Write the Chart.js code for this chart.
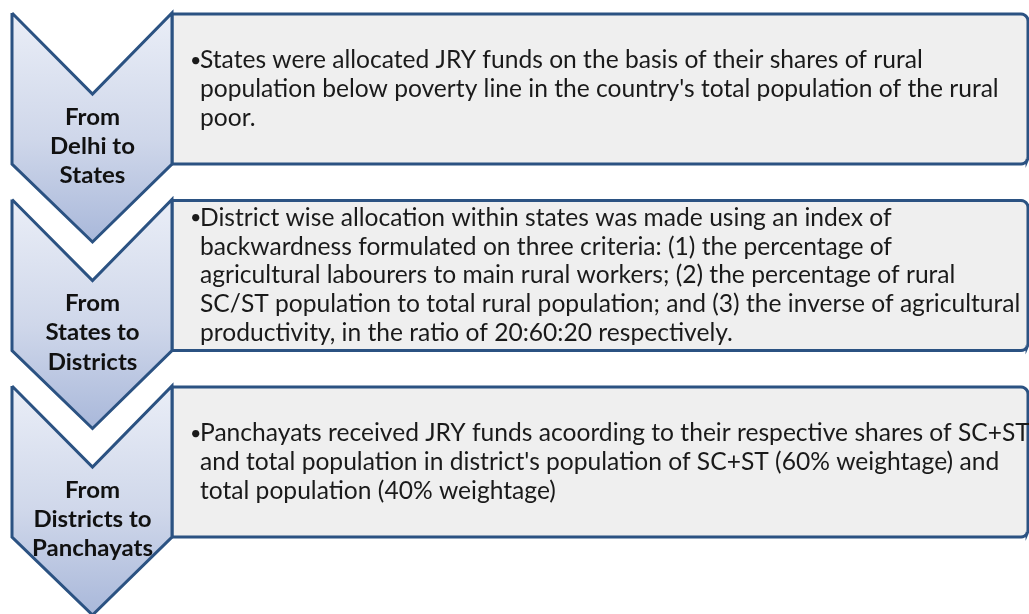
<!DOCTYPE html>
<html>
<head>
<meta charset="utf-8">
<script src="https://cdn.jsdelivr.net/npm/chart.js@4"></script>
<style>
  html, body { margin: 0; padding: 0; background: #ffffff; }
  #wrap { width: 1029px; height: 614px; }
</style>
</head>
<body>
<div id="wrap"><canvas id="c" width="1029" height="614"></canvas></div>
<script>
// ---- data ----
const stageLabels = [
  ["From", "Delhi to", "States"],
  ["From", "States to", "Districts"],
  ["From", "Districts to", "Panchayats"]
];
const stageTexts = [
  ["States were allocated JRY funds on the basis of their shares of rural",
   "population below poverty line in the country's total population of the rural",
   "poor."],
  ["District wise allocation within states was made using an index of",
   "backwardness formulated on three criteria: (1) the percentage of",
   "agricultural labourers to main rural workers; (2) the percentage of rural",
   "SC/ST population to total rural population; and (3) the inverse of agricultural",
   "productivity, in the ratio of 20:60:20 respectively."],
  ["Panchayats received JRY funds acoording to their respective shares of SC+ST",
   "and total population in district's population of SC+ST (60% weightage) and",
   "total population (40% weightage)"]
];
const stageIndex = [0, 1, 2];

// ---- layout (value space = canvas pixel space) ----
const L = {
  chevLeft: 12, chevMid: 92.5, chevRight: 172,
  top0: 13, step: 186.5, notch: 81, corner: 151, tip: 229,
  boxRight: 1028, boxH: 150, radius: 7,
  lineGap: 28.7, chevTextTop: 104.5, chevGap: 29.3
};
const BORDER = '#2b5282';

function chevronPoints(i) {
  const y0 = L.top0 + i * L.step;
  return [
    {x: L.chevLeft, y: y0},
    {x: L.chevMid, y: y0 + L.notch},
    {x: L.chevRight, y: y0},
    {x: L.chevRight, y: y0 + L.corner},
    {x: L.chevMid, y: y0 + L.tip},
    {x: L.chevLeft, y: y0 + L.corner},
    {x: L.chevLeft, y: y0}
  ];
}
function boxPoints(i) {
  const y0 = L.top0 + i * L.step + 1;
  const y1 = y0 + L.boxH;
  const r = L.radius, xr = L.boxRight;
  const pts = [{x: L.chevRight, y: y0}, {x: xr - r, y: y0}];
  for (let k = 1; k <= 6; k++) {
    const a = -Math.PI / 2 + (k / 6) * (Math.PI / 2);
    pts.push({x: xr - r + r * Math.cos(a), y: y0 + r + r * Math.sin(a)});
  }
  pts.push({x: xr, y: y1 - r});
  for (let k = 1; k <= 6; k++) {
    const a = (k / 6) * (Math.PI / 2);
    pts.push({x: xr - r + r * Math.cos(a), y: y1 - r + r * Math.sin(a)});
  }
  pts.push({x: L.chevRight, y: y1});
  pts.push({x: L.chevRight, y: y0});
  return pts;
}

const datasets = [];
stageIndex.forEach(i => {
  datasets.push({
    label: 'box' + i,
    data: boxPoints(i),
    showLine: true, fill: 'shape', tension: 0,
    backgroundColor: '#efefef', borderColor: BORDER, borderWidth: 3,
    pointRadius: 0, order: 2, clip: false
  });
});
stageIndex.forEach(i => {
  datasets.push({
    label: 'chevron' + i,
    data: chevronPoints(i),
    showLine: true, fill: 'shape', tension: 0,
    borderColor: BORDER, borderWidth: 3, borderJoinStyle: 'miter',
    pointRadius: 0, order: 1, clip: false,
    backgroundColor: (ctx) => {
      const chart = ctx.chart;
      const ys = chart.scales.y;
      if (!ys || !chart.chartArea) return '#cdd6ea';
      const y0 = L.top0 + i * L.step;
      const g = chart.ctx.createLinearGradient(0, ys.getPixelForValue(y0), 0, ys.getPixelForValue(y0 + L.tip));
      g.addColorStop(0, '#eaeef7');
      g.addColorStop(0.55, '#cfd7ea');
      g.addColorStop(1, '#a9b8da');
      return g;
    }
  });
});

const textPlugin = {
  id: 'diagramText',
  afterDatasetsDraw(chart) {
    const c = chart.ctx, xs = chart.scales.x, ys = chart.scales.y;
    c.save();
    c.textBaseline = 'middle';
    // body font size fitted to reference line width
    c.font = '20px Lato';
    const bodySize = 20 * 723 / c.measureText(stageTexts[0][0]).width;
    const labSize = 22;
    c.font = 'bold ' + labSize + 'px Lato';
    const labScale = Math.max(0.9, Math.min(1.1, 121 / c.measureText('Panchayats').width));
    stageIndex.forEach(i => {
      const y0 = L.top0 + i * L.step;
      const lines = stageTexts[i];
      const mid = y0 + 1 + L.boxH / 2;
      const first = mid - (lines.length - 1) / 2 * L.lineGap;
      c.fillStyle = '#1a1a1a';
      c.textAlign = 'left';
      c.font = bodySize.toFixed(2) + 'px Lato';
      lines.forEach((t, k) => {
        const py = ys.getPixelForValue(first + k * L.lineGap);
        c.fillText(t, xs.getPixelForValue(200), py);
      });
      c.font = (bodySize * 0.8).toFixed(2) + 'px Lato';
      c.fillText('\u2022', xs.getPixelForValue(190), ys.getPixelForValue(first));
      c.textAlign = 'center';
      c.font = 'bold ' + labSize + 'px Lato';
      c.fillStyle = '#111';
      stageLabels[i].forEach((t, k) => {
        const px = xs.getPixelForValue(L.chevMid);
        const py = ys.getPixelForValue(y0 + L.chevTextTop + k * L.chevGap);
        c.save();
        c.translate(px, py);
        c.scale(labScale, 1);
        c.fillText(t, 0, 0);
        c.restore();
      });
    });
    c.restore();
  }
};

new Chart(document.getElementById('c'), {
  type: 'scatter',
  data: { datasets },
  options: {
    responsive: false,
    animation: false,
    layout: { padding: 0 },
    plugins: { legend: { display: false }, tooltip: { enabled: false }, title: { display: false } },
    events: [],
    scales: {
      x: { type: 'linear', min: 0, max: 1029, display: false },
      y: { type: 'linear', min: 0, max: 614, reverse: true, display: false }
    }
  },
  plugins: [textPlugin]
});
</script>
</body>
</html>
